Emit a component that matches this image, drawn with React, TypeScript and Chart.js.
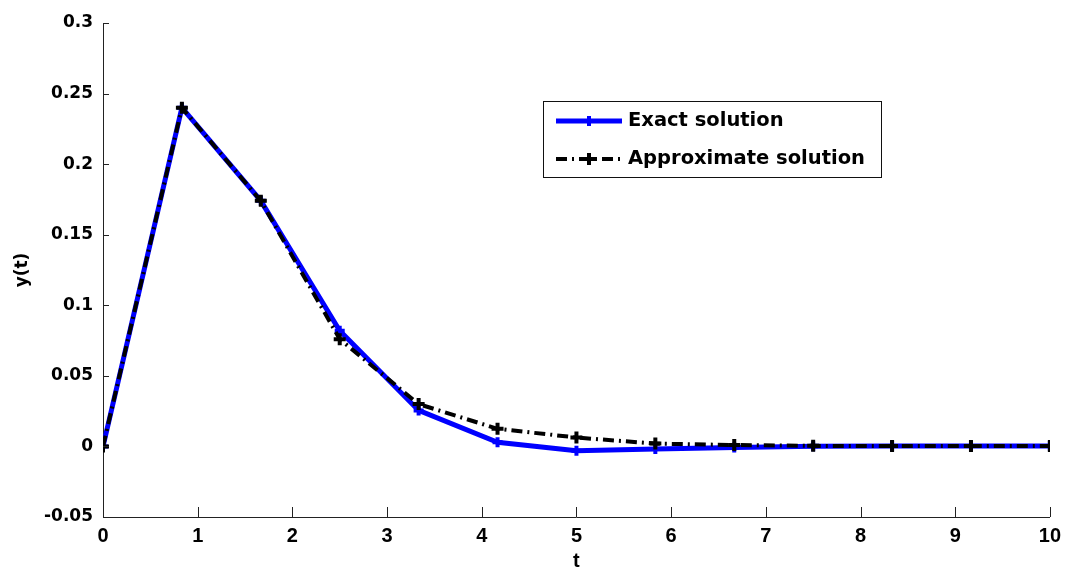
import React, { useEffect, useRef } from "react";
import { Chart, registerables } from "chart.js";

Chart.register(...registerables);

// Sample times t_k = 10k/12
const tValues = [0, 0.8333, 1.6667, 2.5, 3.3333, 4.1667, 5, 5.8333, 6.6667, 7.5, 8.3333, 9.1667, 10];
const exactValues = [0, 0.24, 0.174, 0.082, 0.0255, 0.003, -0.003, -0.0018, -0.0008, 0.0002, 0.0003, 0.0003, 0.0003];
const approxValues = [0, 0.24, 0.174, 0.076, 0.03, 0.0125, 0.0063, 0.002, 0.001, 0.0004, 0.0003, 0.0003, 0.0003];
const seriesNames = ["Exact solution", "Approximate solution"];
const xTicks = [0, 1, 2, 3, 4, 5, 6, 7, 8, 9, 10];
const yTicks = [-0.05, 0, 0.05, 0.1, 0.15, 0.2, 0.25, 0.3];

const NARROW = "'Liberation Sans', Arial, sans-serif";
const WIDE = "'DejaVu Sans', sans-serif";
const DASH_DOT = [11, 5, 2, 5];

// Inward tick marks on the left and bottom axes
const innerTicks = {
  id: "innerTicks",
  afterDraw(chart: any) {
    const { ctx, chartArea } = chart;
    const xs = chart.scales.x;
    const ys = chart.scales.y;
    ctx.save();
    ctx.strokeStyle = "#222";
    ctx.lineWidth = 1;
    ctx.beginPath();
    xs.ticks.forEach((t: any) => {
      const px = Math.round(xs.getPixelForValue(t.value)) + 0.5;
      ctx.moveTo(px, chartArea.bottom);
      ctx.lineTo(px, chartArea.bottom - 10);
    });
    ys.ticks.forEach((t: any) => {
      const py = Math.round(ys.getPixelForValue(t.value)) + 0.5;
      ctx.moveTo(chartArea.left, py);
      ctx.lineTo(chartArea.left + 6, py);
    });
    ctx.stroke();
    ctx.restore();
  },
};

// Boxed legend placed inside the plot area
const boxLegend = {
  id: "boxLegend",
  afterDraw(chart: any) {
    const { ctx } = chart;
    const x0 = 543.5, y0 = 101.5, w = 338, h = 76;
    ctx.save();
    ctx.fillStyle = "#fff";
    ctx.fillRect(x0, y0, w, h);
    ctx.strokeStyle = "#111";
    ctx.lineWidth = 1;
    ctx.strokeRect(x0, y0, w, h);
    const rows = [121, 159];
    chart.data.datasets.forEach((ds: any, i: number) => {
      const y = rows[i];
      ctx.save();
      ctx.strokeStyle = ds.borderColor;
      ctx.lineWidth = ds.borderWidth;
      ctx.setLineDash(ds.borderDash || []);
      ctx.beginPath();
      ctx.moveTo(556, y);
      ctx.lineTo(622, y);
      ctx.stroke();
      ctx.restore();
      ctx.save();
      ctx.strokeStyle = ds.pointBorderColor;
      ctx.lineWidth = ds.pointBorderWidth;
      ctx.beginPath();
      ctx.moveTo(589 - ds.pointRadius, y);
      ctx.lineTo(589 + ds.pointRadius, y);
      ctx.moveTo(589, y - ds.pointRadius);
      ctx.lineTo(589, y + ds.pointRadius);
      ctx.stroke();
      ctx.restore();
      ctx.fillStyle = "#000";
      ctx.font = `bold 19.5px ${WIDE}`;
      ctx.textBaseline = "middle";
      ctx.textAlign = "left";
      ctx.fillText(ds.label, 628, y);
    });
    ctx.restore();
  },
};

export default function App() {
  const canvasRef = useRef<HTMLCanvasElement | null>(null);

  useEffect(() => {
    if (!canvasRef.current) return;
    const toPts = (vals: number[]) => tValues.map((t, i) => ({ x: t, y: vals[i] }));
    const chart = new Chart(canvasRef.current, {
      type: "line",
      data: {
        datasets: [
          {
            label: seriesNames[0],
            data: toPts(exactValues),
            borderColor: "#0000ff",
            borderWidth: 5,
            pointStyle: "cross",
            pointRadius: 5,
            pointBorderWidth: 4,
            pointBorderColor: "#0000ff",
            pointBackgroundColor: "#0000ff",
            order: 1,
          },
          {
            label: seriesNames[1],
            data: toPts(approxValues),
            borderColor: "#000000",
            borderWidth: 4,
            borderDash: DASH_DOT,
            pointStyle: "cross",
            pointRadius: 6,
            pointBorderWidth: 4,
            pointBorderColor: "#000000",
            pointBackgroundColor: "#000000",
            order: 0,
          },
        ],
      },
      options: {
        animation: false,
        responsive: false,
        maintainAspectRatio: false,
        layout: { padding: { left: 0, top: 23, right: 17, bottom: 0 } },
        plugins: { legend: { display: false }, tooltip: { enabled: false } },
        scales: {
          x: {
            type: "linear",
            min: 0,
            max: 10,
            afterBuildTicks: (s: any) => {
              s.ticks = xTicks.map((v) => ({ value: v }));
            },
            afterFit: (s: any) => {
              s.height = 56;
            },
            grid: { display: false, drawTicks: false },
            border: { display: true, color: "#222", width: 1 },
            ticks: {
              color: "#000",
              font: { family: NARROW, size: 20, weight: "bold" },
              padding: 7,
              maxRotation: 0,
              autoSkip: false,
            },
            title: {
              display: true,
              text: "t",
              color: "#000",
              font: { family: NARROW, size: 20, weight: "bold" },
              padding: { top: 3, bottom: 0 },
            },
          },
          y: {
            type: "linear",
            min: -0.05,
            max: 0.3,
            afterBuildTicks: (s: any) => {
              s.ticks = yTicks.map((v) => ({ value: v }));
            },
            afterFit: (s: any) => {
              s.width = 103;
              s.paddingTop = 0;
              s.paddingBottom = 0;
            },
            grid: { display: false, drawTicks: false },
            border: { display: true, color: "#222", width: 1 },
            ticks: {
              color: "#000",
              font: { family: WIDE, size: 17, weight: "bold" },
              padding: 10,
              autoSkip: false,
              callback: (v: any) => String(Math.round(Number(v) * 100) / 100),
            },
            title: {
              display: true,
              text: "y(t)",
              color: "#000",
              font: { family: WIDE, size: 17, weight: "bold" },
              padding: { top: 12, bottom: 4 },
            },
          },
        },
      },
      plugins: [innerTicks, boxLegend],
    });
    return () => chart.destroy();
  }, []);

  return (
    <div style={{ position: "fixed", left: 0, top: 0, width: 1068, height: 573, background: "#fff" }}>
      <canvas ref={canvasRef} width={1068} height={573} style={{ width: 1068, height: 573 }} />
    </div>
  );
}
